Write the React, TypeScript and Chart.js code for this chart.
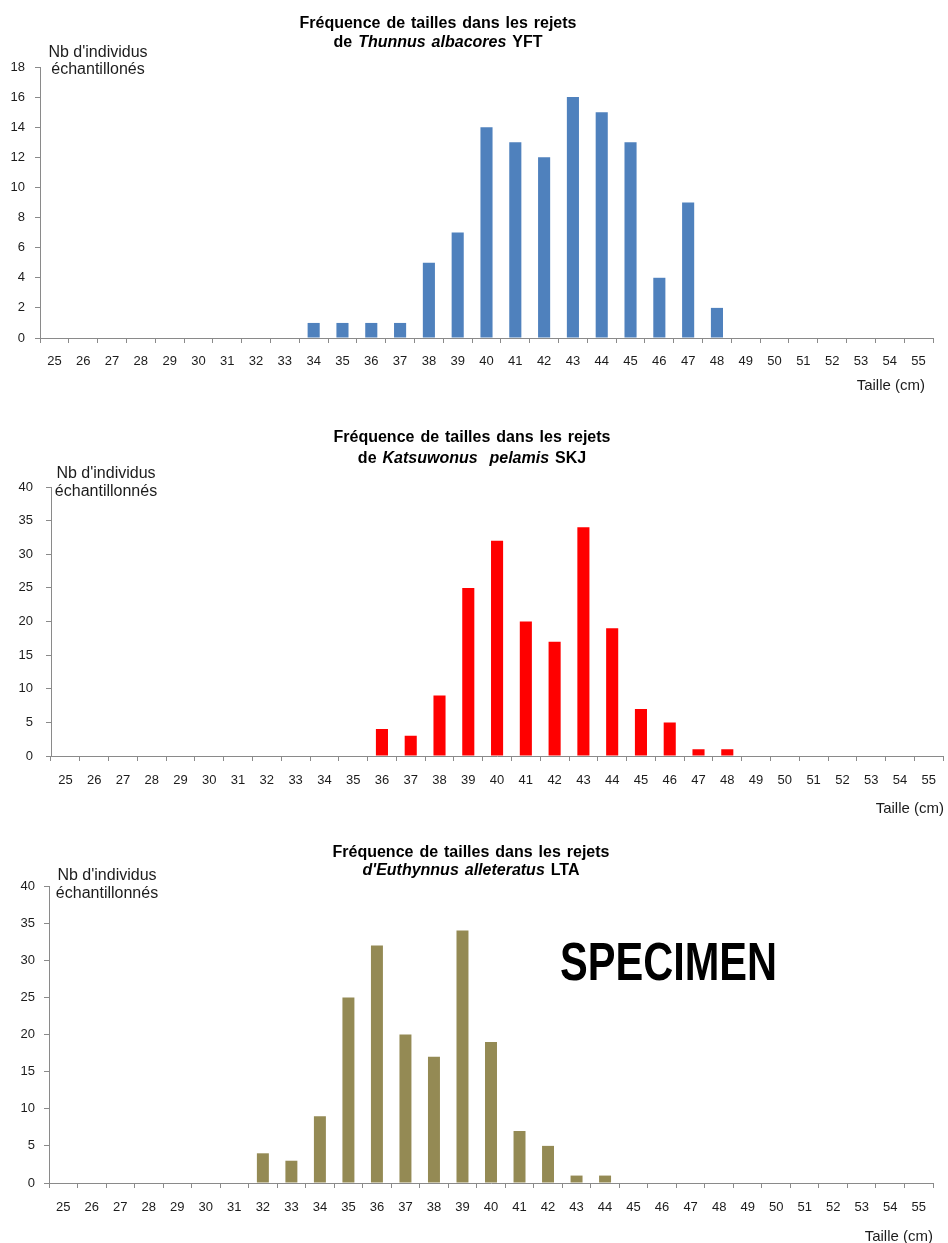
import React, { useEffect, useRef } from "react";
import { Chart, registerables } from "chart.js";

Chart.register(...registerables);

// ---------- data ----------
const sizeCategories = [
  "25", "26", "27", "28", "29", "30", "31", "32", "33", "34", "35",
  "36", "37", "38", "39", "40", "41", "42", "43", "44", "45", "46",
  "47", "48", "49", "50", "51", "52", "53", "54", "55",
];

// Thunnus albacores (YFT)
const yftCounts = [
  0, 0, 0, 0, 0, 0, 0, 0, 0, 1, 1,
  1, 1, 5, 7, 14, 13, 12, 16, 15, 13, 4,
  9, 2, 0, 0, 0, 0, 0, 0, 0,
];

// Katsuwonus pelamis (SKJ)
const skjCounts = [
  0, 0, 0, 0, 0, 0, 0, 0, 0, 0, 0,
  4, 3, 9, 25, 32, 20, 17, 34, 19, 7, 5,
  1, 1, 0, 0, 0, 0, 0, 0, 0,
];

// Euthynnus alletteratus (LTA)
const ltaCounts = [
  0, 0, 0, 0, 0, 0, 0, 4, 3, 9, 25,
  32, 20, 17, 34, 19, 7, 5, 1, 1, 0, 0,
  0, 0, 0, 0, 0, 0, 0, 0, 0,
];

const yftYMax = 18;
const yftYStep = 2;
const skjYMax = 40;
const skjYStep = 5;
const ltaYMax = 40;
const ltaYStep = 5;

const titleLine1 = "Fréquence de tailles dans les rejets";
const yftTitle2 = [
  { t: "de ", i: false },
  { t: "Thunnus albacores", i: true },
  { t: " YFT", i: false },
];
const skjTitle2 = [
  { t: "de ", i: false },
  { t: "Katsuwonus  pelamis", i: true },
  { t: " SKJ", i: false },
];
const ltaTitle2 = [
  { t: "d'Euthynnus alleteratus", i: true },
  { t: " LTA", i: false },
];
const xAxisLabel = "Taille (cm)";
const yLabelYft = ["Nb d'individus", "échantillonés"];
const yLabelOther = ["Nb d'individus", "échantillonnés"];
const watermark = "SPECIMEN";

// ---------- drawing helpers ----------
const FONT = "'Liberation Sans', Arial, Helvetica, sans-serif";
const AXIS_COLOR = "#8a8a8a";
const TEXT_COLOR = "#1c1c1c";

type Seg = { t: string; i: boolean };

const panelTextPlugin = {
  id: "panelText",
  afterDraw(chart: any) {
    const o = chart.options.plugins.panelText;
    if (!o) return;
    const ctx: CanvasRenderingContext2D = chart.ctx;
    ctx.save();
    ctx.fillStyle = "#000";
    ctx.textBaseline = "alphabetic";
    try {
      (ctx as any).wordSpacing = "1.5px";
    } catch (e) {}

    const drawSegs = (segs: Seg[], cx: number, y: number) => {
      let total = 0;
      const widths: number[] = [];
      segs.forEach((s) => {
        ctx.font = `${s.i ? "italic " : ""}bold 16px ${FONT}`;
        const w = ctx.measureText(s.t).width;
        widths.push(w);
        total += w;
      });
      let x = cx - total / 2;
      ctx.textAlign = "left";
      segs.forEach((s, k) => {
        ctx.font = `${s.i ? "italic " : ""}bold 16px ${FONT}`;
        ctx.fillText(s.t, x, y);
        x += widths[k];
      });
    };

    drawSegs([{ t: o.title1, i: false }], o.titleX, o.title1Y);
    drawSegs(o.title2, o.titleX, o.title2Y);

    try {
      (ctx as any).wordSpacing = "0px";
    } catch (e) {}

    // y-axis label
    ctx.fillStyle = TEXT_COLOR;
    ctx.font = `16px ${FONT}`;
    ctx.textAlign = "center";
    ctx.fillText(o.yLabel[0], o.yLabelX, o.yLabel1Y);
    ctx.fillText(o.yLabel[1], o.yLabelX, o.yLabel2Y);

    // x-axis label
    ctx.font = `15px ${FONT}`;
    ctx.textAlign = "right";
    ctx.fillText(o.xLabel, o.xLabelRight, o.xLabelY);

    if (o.mark) {
      ctx.fillStyle = "#000";
      ctx.font = `bold 53px ${FONT}`;
      ctx.textAlign = "left";
      ctx.fillText(o.mark.text, o.mark.x, o.mark.y, o.mark.w);
    }
    ctx.restore();
  },
};

type PanelProps = {
  top: number;
  height: number;
  counts: number[];
  color: string;
  yMax: number;
  yStep: number;
  padTop: number;
  padRight: number;
  yAxisWidth: number;
  xAxisHeight: number;
  xTickPad: number;
  yTickPad: number;
  text: any;
};

function Panel(p: PanelProps) {
  const ref = useRef<HTMLCanvasElement | null>(null);
  useEffect(() => {
    if (!ref.current) return;
    const chart = new Chart(ref.current, {
      type: "bar",
      data: {
        labels: sizeCategories,
        datasets: [
          {
            data: p.counts,
            backgroundColor: p.color,
            borderWidth: 0,
            barPercentage: 0.42,
            categoryPercentage: 1,
          },
        ],
      },
      options: {
        responsive: false,
        animation: false,
        devicePixelRatio: 1,
        layout: { padding: { top: p.padTop, right: p.padRight, left: 0, bottom: 0 } },
        plugins: {
          legend: { display: false },
          title: { display: false },
          tooltip: { enabled: false },
          panelText: p.text,
        } as any,
        scales: {
          x: {
            type: "category",
            offset: true,
            grid: {
              offset: true,
              drawOnChartArea: false,
              drawTicks: true,
              tickLength: 5,
              color: AXIS_COLOR,
            },
            border: { display: true, color: AXIS_COLOR, width: 1 },
            ticks: {
              color: TEXT_COLOR,
              font: { family: FONT, size: 13 },
              padding: p.xTickPad,
              autoSkip: false,
              maxRotation: 0,
            },
            afterFit: (s: any) => {
              s.height = p.xAxisHeight;
            },
          },
          y: {
            min: 0,
            max: p.yMax,
            grid: {
              drawOnChartArea: false,
              drawTicks: true,
              tickLength: 5,
              color: AXIS_COLOR,
            },
            border: { display: true, color: AXIS_COLOR, width: 1 },
            ticks: {
              stepSize: p.yStep,
              color: TEXT_COLOR,
              font: { family: FONT, size: 13 },
              padding: p.yTickPad,
            },
            afterFit: (s: any) => {
              s.width = p.yAxisWidth;
            },
          },
        },
      } as any,
      plugins: [panelTextPlugin as any],
    });
    return () => chart.destroy();
  }, []);
  return (
    <canvas
      ref={ref}
      width={948}
      height={p.height}
      style={{ position: "absolute", left: 0, top: p.top, width: 948, height: p.height }}
    />
  );
}

export default function App() {
  return (
    <div
      style={{
        position: "absolute",
        left: 0,
        top: 0,
        width: 948,
        height: 1243,
        background: "#fff",
        overflow: "hidden",
      }}
    >
      <Panel
        top={0}
        height={400}
        counts={yftCounts}
        color="#4F81BD"
        yMax={yftYMax}
        yStep={yftYStep}
        padTop={67}
        padRight={15}
        yAxisWidth={40}
        xAxisHeight={62}
        xTickPad={11}
        yTickPad={10}
        text={{
          title1: titleLine1,
          title2: yftTitle2,
          titleX: 438,
          title1Y: 28,
          title2Y: 46.5,
          yLabel: yLabelYft,
          yLabelX: 98,
          yLabel1Y: 57,
          yLabel2Y: 74,
          xLabel: xAxisLabel,
          xLabelRight: 925,
          xLabelY: 390,
        }}
      />
      <Panel
        top={400}
        height={420}
        counts={skjCounts}
        color="#FF0000"
        yMax={skjYMax}
        yStep={skjYStep}
        padTop={87}
        padRight={2}
        yAxisWidth={51}
        xAxisHeight={64}
        xTickPad={12}
        yTickPad={13}
        text={{
          title1: titleLine1,
          title2: skjTitle2,
          titleX: 472,
          title1Y: 41.7,
          title2Y: 62.7,
          yLabel: yLabelOther,
          yLabelX: 106,
          yLabel1Y: 78,
          yLabel2Y: 96,
          xLabel: xAxisLabel,
          xLabelRight: 944,
          xLabelY: 412.7,
        }}
      />
      <Panel
        top={820}
        height={423}
        counts={ltaCounts}
        color="#948A54"
        yMax={ltaYMax}
        yStep={ltaYStep}
        padTop={66}
        padRight={15}
        yAxisWidth={49}
        xAxisHeight={60}
        xTickPad={12}
        yTickPad={9}
        text={{
          title1: titleLine1,
          title2: ltaTitle2,
          titleX: 471,
          title1Y: 36.7,
          title2Y: 55,
          yLabel: yLabelOther,
          yLabelX: 107,
          yLabel1Y: 60,
          yLabel2Y: 78,
          xLabel: xAxisLabel,
          xLabelRight: 933,
          xLabelY: 420.7,
          mark: { text: watermark, x: 560, y: 160, w: 217 },
        }}
      />
    </div>
  );
}
